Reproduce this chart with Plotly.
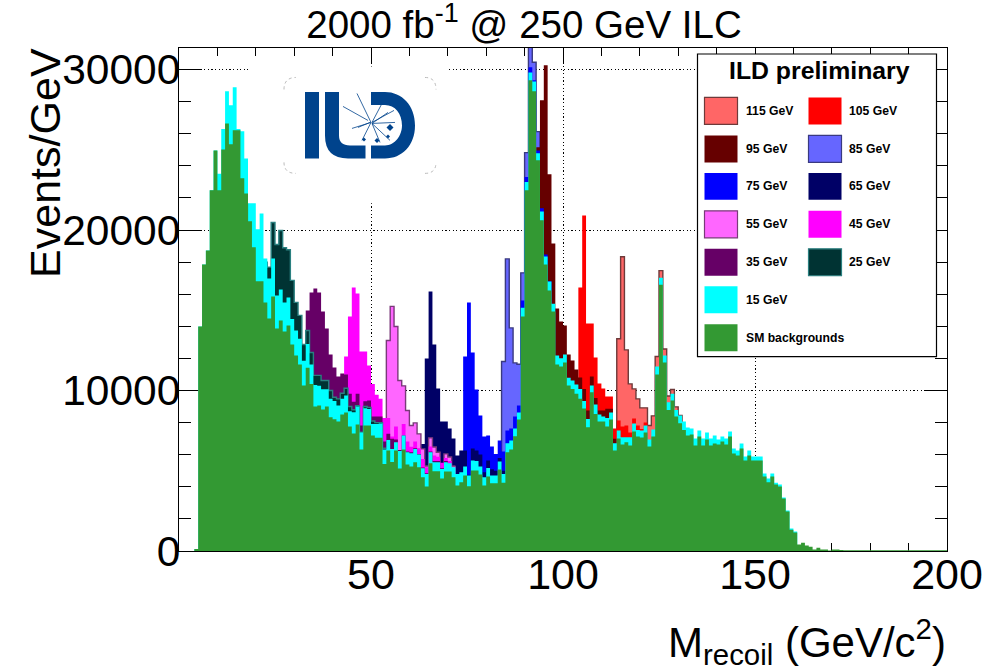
import plotly.graph_objects as go

# ---------- data: one value per 1 GeV bin, first bin given by *_first ----------
sm_first = 4
sm_values = [120, 13990, 17850, 18730, 22470, 24960, 22470, 25020, 26640, 25340, 26210, 26210, 23220, 22280, 20540, 18930, 16800, 16800,
 15490, 14490, 15860, 13860, 14360, 13680, 14050, 12870, 12180, 11620, 10310, 11410, 10410, 9000, 9060, 8820, 9000, 8340, 8210, 8070, 8500, 8630,
 7760, 7320, 7880, 6320, 7820, 7820, 7190, 7050, 7050, 5420, 6260, 5550, 6260, 5140, 6320, 5390, 5260, 5530, 5220, 4590, 4020, 5470, 4970, 4970, 4510,
 4950, 4950, 4590, 4080, 4280, 4700, 4030, 5010, 5010, 4760, 4080, 4640, 4220, 4220, 5080, 4260, 6150, 6320, 7150, 8190, 14610, 22470, 29330, 28640, 24340,
 20600, 17850, 16230, 14920, 11620, 11500, 11750, 10310, 10100, 9790, 9480, 8880, 7710, 9890, 8540, 8070, 8070, 7760, 8190, 6260, 7010, 6630, 6780, 6570,
 7440, 7130, 7070, 7380, 6510, 7130, 11000, 16590, 11750, 8790, 9380, 8380, 7960, 7540, 7190, 7260, 6570, 7130, 6570, 6950, 6570, 6700, 6630, 6820, 6630,
 7130, 6070, 5950, 6380, 5640, 5950, 5640, 5640, 5640, 4640, 4280, 4640, 4140, 4020, 3270, 2460, 1330, 1150, 400, 520, 340, 270, 90, 210, 90, 90, 25, 90, 90, 60,
 40, 40, 40, 40, 40, 40, 40, 40, 40, 40, 40, 40, 40, 40, 40, 40, 40, 40, 40, 40, 40, 40, 40, 40, 40, 40, 40]
m15_first = 4
m15_values = [120, 13990, 17850, 18730, 22470, 24960, 23510, 26300, 28640, 27770, 28890, 26300, 26150, 24450, 21780, 21780, 20040, 21030,
 18230, 16980, 18230, 15920, 16300, 15490, 15800, 14460, 13740, 13220, 11850, 12900, 11620, 10350, 10300, 10080, 10080, 9480, 9350, 9060, 9480, 9690,
 8710, 8650, 9000, 7380, 8900, 8850, 7920, 7920, 7950, 6320, 6920, 6360, 6780, 6230, 7190, 6150, 6090, 6360, 6010, 5160, 4800, 6150, 5530, 5530, 5110,
 5530, 5470, 5220, 4800, 4910, 5260, 4700, 5640, 5600, 5260, 4590, 5170, 4700, 4700, 5570, 4800, 6710, 6880, 7630, 8630, 15150, 22990, 29820, 29260, 24790,
 21160, 18350, 16790, 15400, 12180, 12010, 12240, 10790, 10620, 10370, 10100, 9350, 8230, 10310, 9130, 8500, 8380, 8290, 8630, 6710, 7510, 7090, 7090, 7090,
 7940, 7540, 7510, 7820, 6950, 7570, 11500, 17020, 12180, 9270, 9790, 8790, 8440, 8070, 7690, 7630, 7010, 7510, 7010, 7380, 7010, 7190, 6950, 7130, 7010,
 7440, 6380, 6260, 6700, 5890, 6260, 5890, 5890, 5890, 4830, 4510, 4830, 4260, 4140, 3330, 2520, 1400, 1210]
m25_first = 22
m25_values = [18000, 17690, 20470, 19100, 19970, 18890, 18770, 16860, 15490, 14680, 12870, 13740, 12370, 10940, 10940, 10620, 10620, 10000, 9580, 9480,
 9830, 10140, 9000, 8800, 9060, 7400, 9000, 8950, 8100, 8000, 8000, 6400]
m35_first = 32
m35_values = [12000, 14990, 16110, 16360, 16110, 14920, 13860, 12240, 11430, 10870, 11060, 11000, 9790, 9300, 9790, 7820, 9330, 9380, 8380, 8380, 8380,
 6820, 7300, 7000, 6950, 6300, 7200, 6200, 6150, 6400, 6050, 5200, 4850, 6200, 5600, 5600, 5150, 5600]
m45_first = 41
m45_values = [9000, 9000, 12120, 14610, 16420, 16050, 12430, 12430, 11560, 10410, 9730, 9480, 8290, 8290, 7130, 7760, 6300, 7920, 6820, 6500, 6820, 6400,
 5730, 5220, 6510, 5950, 5880, 5500, 5800, 5600]
m55_first = 52
m55_values = [7500, 8020, 13120, 15240, 13990, 10620, 10290, 8750, 7820, 7980, 7300, 6360, 5300, 7050, 6480, 6150, 5400, 6050, 5860, 5300]
m65_first = 62
m65_values = [5500, 6670, 11990, 16170, 12870, 10120, 8070, 8070, 7630, 7010, 5950, 6260, 6260, 4750, 6380, 6260, 6010, 4900, 5640, 5100, 5000, 5800, 5000]
m75_first = 73
m75_values = [5500, 12120, 15490, 12370, 10060, 8440, 7130, 7190, 6510, 6050, 6880, 6200, 7510, 7630, 8380, 9060, 15610, 23300, 30140, 29330, 24960, 21350, 18480, 16800]
m85_first = 83
m85_values = [5000, 11810, 18200, 13900, 11720, 11640, 17330, 24820, 32500, 30450, 26130, 22000]
m95_first = 92
m95_values = [20000, 25150, 28080, 30260, 23470, 19160, 15110, 14300, 14050, 12240, 11870, 11310, 10810, 10100, 8750, 10870, 9540, 8750, 8750, 8860, 8860, 7000]
m105_first = 103
m105_values = [9000, 16420, 20910, 14180, 14180, 12060, 10440, 10120, 9630, 9630, 7630, 8130, 7760, 7820, 7380, 8250, 7820, 7600, 8000, 6500]
m115_first = 113
m115_values = [7000, 13220, 18330, 12530, 10410, 10100, 9480, 8920, 8920, 7820, 8420, 12120, 17470, 12590, 9660, 10060, 8980, 8450, 7500]

x_tick_values = [50, 100, 150, 200]
x_tick_labels = ["50", "100", "150", "200"]
y_tick_values = [0, 10000, 20000, 30000]
y_tick_labels = ["0", "10000", "20000", "30000"]
legend_left = ["115 GeV", "95 GeV", "75 GeV", "55 GeV", "35 GeV", "15 GeV", "SM backgrounds"]
legend_right = ["105 GeV", "85 GeV", "65 GeV", "45 GeV", "25 GeV"]

# ---------- styles ----------
FONT = "Liberation Sans"
STYLE = {
    "115 GeV": ("#ff6666", "#6e3a3a"), "105 GeV": ("#ff0000", None),
    "95 GeV": ("#660000", None), "85 GeV": ("#6666ff", "#3a3a80"),
    "75 GeV": ("#0000ff", None), "65 GeV": ("#000066", None),
    "55 GeV": ("#ff66ff", "#7a3a7a"), "45 GeV": ("#ff00ff", None),
    "35 GeV": ("#660066", None), "25 GeV": ("#003333", "#2a8080"),
    "15 GeV": ("#00ffff", None), "SM backgrounds": ("#339933", None),
}

# plot frame in page pixels
L, R, T, B = 179, 947, 47.5, 551
W, H = 996, 672
def px(x): return (x - L) / (R - L)
def py(y): return (B - y) / (B - T)
def P(x, y): return f"{px(x):.5f} {py(y):.5f}"

fig = go.Figure()
def add_hist(name, first, values):
    edges = [first + i for i in range(len(values) + 1)]
    fill, line = STYLE[name]
    fig.add_trace(go.Scatter(
        x=edges, y=list(values) + [values[-1]], name=name, mode="lines",
        line=dict(shape="hv", color=line or fill, width=1.4 if line else 0),
        fill="tozeroy", fillcolor=fill, showlegend=False, hoverinfo="skip"))

# back to front
add_hist("115 GeV", m115_first, m115_values)
add_hist("105 GeV", m105_first, m105_values)
add_hist("85 GeV", m85_first, m85_values)
add_hist("95 GeV", m95_first, m95_values)
add_hist("75 GeV", m75_first, m75_values)
add_hist("65 GeV", m65_first, m65_values)
add_hist("55 GeV", m55_first, m55_values)
add_hist("45 GeV", m45_first, m45_values)
add_hist("35 GeV", m35_first, m35_values)
add_hist("25 GeV", m25_first, m25_values)
add_hist("15 GeV", m15_first, m15_values)
add_hist("SM backgrounds", sm_first, sm_values)

shapes, annots = [], []
def rect(x0, y0, x1, y1, fill, line=None, lw=1):
    shapes.append(dict(type="rect", xref="paper", yref="paper", x0=px(x0), x1=px(x1), y0=py(y1), y1=py(y0),
                       fillcolor=fill, line=dict(color=line or fill, width=lw if line else 0), layer="above"))
def path(d, fill=None, line=None, lw=1, dash=None):
    l = dict(color=line or "rgba(0,0,0,0)", width=lw if line else 0)
    if dash: l["dash"] = dash
    shapes.append(dict(type="path", xref="paper", yref="paper", path=d, fillcolor=fill or "rgba(0,0,0,0)", line=l, layer="above"))

# ---- logo area ----
rect(248, 66, 449, 203, "#ffffff")
BLUE = "#00438c"
grey = "#bbbbbb"
path(f"M {P(284,89)} Q {P(284,77)} {P(296,77)}", line=grey, lw=1, dash="dot")
path(f"M {P(425,77)} Q {P(436,77)} {P(436,89)}", line=grey, lw=1, dash="dot")
path(f"M {P(284,162)} Q {P(284,173)} {P(296,173)}", line=grey, lw=1, dash="dot")
path(f"M {P(425,173)} Q {P(436,173)} {P(436,162)}", line=grey, lw=1, dash="dot")
rect(305, 91.5, 319, 158, BLUE)
path(f"M {P(325,91.5)} L {P(339,91.5)} L {P(339,135)} Q {P(339,145)} {P(350,145)} L {P(365.5,145)} L {P(365.5,158)} L {P(348,158)} "
     f"Q {P(325,158)} {P(325,135)} Z", fill=BLUE)
path(f"M {P(371,91.5)} L {P(385,91.5)} C {P(402,91.5)} {P(415,105)} {P(415,125)} C {P(415,145)} {P(402,158)} {P(385,158)} L {P(371,158)} "
     f"L {P(371,145)} L {P(385,145)} C {P(395,145)} {P(402,135)} {P(402,125)} C {P(402,113)} {P(395,104.5)} {P(385,104.5)} L {P(371,104.5)} Z", fill=BLUE)
for (a, b) in [((343, 106), (368, 120)), ((357, 93), (371, 122)), ((370, 122), (358, 127)), ((371, 122), (352, 128)),
               ((371, 122), (362, 140)), ((372, 122), (394, 110)), ((372, 123), (395, 122)), ((372, 123), (390, 140)),
               ((372, 123), (380, 142)), ((372, 123), (388, 112)), ((372, 122), (382, 103))]:
    path(f"M {P(*a)} L {P(*b)}", line=BLUE, lw=0.8)
for (cx, cy, r) in [(377, 140, 2.5), (364, 139, 2), (388, 136, 2), (390, 127, 3.5)]:
    path(f"M {P(cx-r,cy)} L {P(cx,cy-r)} L {P(cx+r,cy)} L {P(cx,cy+r)} Z", fill=BLUE)

# ---- legend box ----
rect(697.5, 53.5, 936.5, 356.5, "#ffffff", "#000000", 1.2)
def text(x, y, s, size, anchor="left", bold=False, angle=0, yanchor="middle"):
    annots.append(dict(xref="paper", yref="paper", x=px(x), y=py(y), text=f"<b>{s}</b>" if bold else s, showarrow=False,
                       xanchor=anchor, yanchor=yanchor, textangle=angle, font=dict(family=FONT, size=size, color="#000000"),
                       borderpad=0, borderwidth=0))
text(819, 70.5, "ILD preliminary", 24.8, "center", True)
rows = [110.5, 148.5, 186, 224, 262, 299.5, 337.5]
for name, yc in zip(legend_left, rows):
    fill, line = STYLE[name]
    rect(704.5, yc - 13.5, 737.5, yc + 13.5, fill, line, 1.2)
    text(745.5, yc, name, 12.2, bold=True)
for name, yc in zip(legend_right, rows):
    fill, line = STYLE[name]
    rect(808.5, yc - 13.5, 841.5, yc + 13.5, fill, line, 1.2)
    text(849, yc, name, 12.2, bold=True)

# ---- axis captions ----
text(946, 642, "M<sub>recoil</sub> (GeV/c<sup>2</sup>)", 42, "right")
text(45, 162.5, "Events/GeV", 43, "center", angle=-90)

axis_common = dict(showline=True, linecolor="#000000", linewidth=1.3, mirror="allticks", ticks="inside",
                   tickcolor="#000000", tickwidth=1.2, showgrid=True, gridcolor="#000000", gridwidth=1,
                   griddash="1.2px,2.4px", zeroline=False, layer="below traces", tickmode="array")
fig.update_layout(
    width=W, height=H, autosize=False, plot_bgcolor="#ffffff", paper_bgcolor="#ffffff",
    margin=dict(l=L, r=W - R, t=T, b=H - B, pad=0),
    showlegend=False, shapes=shapes, annotations=annots,
    title=dict(text="2000 fb<sup>-1</sup> @ 250 GeV ILC", x=524 / W, xanchor="center", y=1 - 25 / H, yanchor="middle",
               font=dict(family=FONT, size=38.5, color="#000000")),
    xaxis=dict(range=[0, 200], tickvals=x_tick_values, ticktext=x_tick_labels, ticklen=15, ticklabelstandoff=-15,
               minor=dict(tick0=0, dtick=10, ticks="inside", ticklen=7.5, tickcolor="#000000", tickwidth=1.2, showgrid=False),
               tickfont=dict(family=FONT, size=43, color="#000000"), **axis_common),
    yaxis=dict(range=[0, 31340], tickvals=y_tick_values, ticktext=y_tick_labels, ticklen=22, ticklabelstandoff=-11,
               minor=dict(tick0=0, dtick=2000, ticks="inside", ticklen=12, tickcolor="#000000", tickwidth=1.2, showgrid=False),
               tickfont=dict(family=FONT, size=42.5, color="#000000"), **axis_common),
)
fig.write_html("out.html", post_script="document.body.style.margin='0';", config=dict(displayModeBar=False))
